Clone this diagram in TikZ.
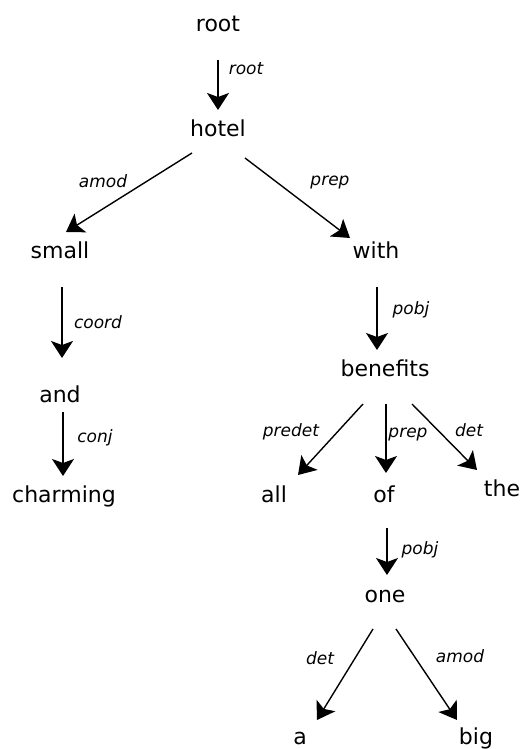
\documentclass[tikz,border=0pt]{standalone}
\usepackage{fontspec}
\setmainfont{DejaVu Sans}
\usepackage{tikz}
\usetikzlibrary{arrows.meta}
\tikzstyle{word}  = [font=\fontsize{22}{26}\selectfont, inner sep=0pt, anchor=base]
\tikzstyle{rel}   = [font=\fontsize{17}{20}\selectfont\itshape, inner sep=0pt, anchor=base]
\tikzstyle{dep}   = [line width=1.4pt, -{Stealth[length=17pt,width=22pt,inset=4pt]}]

\begin{document}
\begin{tikzpicture}[x=1pt,y=1pt]
		\useasboundingbox (0,0) rectangle (524,749);

		\draw (218,717) node[word] (root) {root};
		\draw (218,612) node[word] (hotel) {hotel};
		\draw (60,490) node[word] (small) {small};
		\draw (376,490) node[word] (with) {with};
		\draw (60,346) node[word] (and) {and};
		\draw (64,246) node[word] (charming) {charming};
		\draw (385,372) node[word] (benefits) {benefits};
		\draw (274,246) node[word] (all) {all};
		\draw (384,246) node[word] (of) {of};
		\draw (502,252) node[word] (the) {the};
		\draw (385,146) node[word] (one) {one};
		\draw (300,5) node[word] (a) {a};
		\draw (476,5) node[word] (big) {big};

		\draw[dep] ([yshift=-28pt]root.base) -- ([yshift=27pt]hotel.base);
		\draw[dep] ([xshift=-26pt,yshift=-16pt]hotel.base) -- ([xshift=6pt,yshift=27pt]small.base);
		\draw[dep] ([xshift=27pt,yshift=-21pt]hotel.base) -- ([xshift=-26pt,yshift=21pt]with.base);
		\draw[dep] ([xshift=2pt,yshift=-28pt]small.base) -- ([xshift=2pt,yshift=45pt]and.base);
		\draw[dep] ([xshift=3pt,yshift=-9pt]and.base) -- ([xshift=-1pt,yshift=27pt]charming.base);
		\draw[dep] ([xshift=1pt,yshift=-28pt]with.base) -- ([xshift=-8pt,yshift=27pt]benefits.base);
		\draw[dep] ([xshift=-22pt,yshift=-27pt]benefits.base) -- ([xshift=24pt,yshift=28pt]all.base);
		\draw[dep] ([xshift=1pt,yshift=-27pt]benefits.base) -- ([xshift=2pt,yshift=30pt]of.base);
		\draw[dep] ([xshift=27pt,yshift=-27pt]benefits.base) -- ([xshift=-25pt,yshift=27pt]the.base);
		\draw[dep] ([xshift=3pt,yshift=-25pt]of.base) -- ([xshift=2pt,yshift=28pt]one.base);
		\draw[dep] ([xshift=-12pt,yshift=-26pt]one.base) -- ([xshift=17pt,yshift=24pt]a.base);
		\draw[dep] ([xshift=11pt,yshift=-26pt]one.base) -- ([xshift=-19pt,yshift=24pt]big.base);

		\draw (246,674) node[rel] (l-root) {root};
		\draw (103,561) node[rel] (l-amod) {amod};
		\draw (330,563) node[rel] (l-prep) {prep};
		\draw (98,420) node[rel] (l-coord) {coord};
		\draw (95,306) node[rel] (l-conj) {conj};
		\draw (411,434) node[rel] (l-pobj) {pobj};
		\draw (291,312) node[rel] (l-predet) {predet};
		\draw (408,311) node[rel] (l-prep2) {prep};
		\draw (469,312) node[rel] (l-det) {det};
		\draw (420,194) node[rel] (l-pobj2) {pobj};
		\draw (320,84) node[rel] (l-det2) {det};
		\draw (460,86) node[rel] (l-amod2) {amod};
	\end{tikzpicture}
\end{document}
